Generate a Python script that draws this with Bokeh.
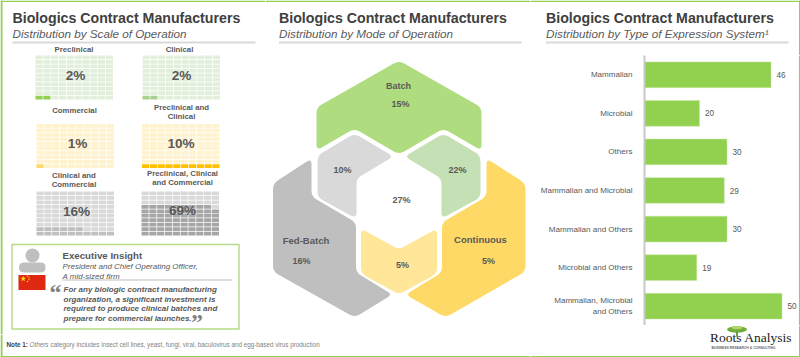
from bokeh.embed import file_html
from bokeh.resources import INLINE
from bokeh.plotting import figure
from bokeh.layouts import row, column
from bokeh.models import Range1d, FactorRange, Span
from bokeh.core.properties import value

# ---- data ----
panel_title = "Biologics Contract Manufacturers"
scale_subtitle = "Distribution by Scale of Operation"
mode_subtitle = "Distribution by Mode of Operation"
system_subtitle = "Distribution by Type of Expression System\u00b9"

scale_labels = ["Preclinical", "Clinical", "Commercial", "Preclinical and\nClinical",
                "Clinical and\nCommercial", "Preclinical, Clinical\nand Commercial"]
scale_values = [2, 2, 1, 10, 16, 69]

mode_labels = ["Batch", "Fed-Batch", "Continuous"]
mode_values = [15, 16, 5]
mode_overlap_values = [10, 22, 5, 27]

systems = ["Mammalian", "Microbial", "Others", "Mammalian and Microbial", "Mammalian and Others",
           "Microbial and Others", "Mammalian, Microbial\nand Others"]
system_counts = [46, 20, 30, 29, 30, 19, 50]

# ---- styles ----
FONT = value("Liberation Sans")
INK = "#595959"
GREEN = "#92d050"
BAR_PX_PER_UNIT = 2.75
SPLIT = 334


def pixel_fig(x0, x1, y0, y1):
    p = figure(width=x1 - x0, height=y1 - y0, x_range=Range1d(x0, x1), y_range=Range1d(y1, y0),
               output_backend="svg", toolbar_location=None, x_axis_type=None, y_axis_type=None,
               min_border=0, outline_line_color=None, background_fill_color="white", frame_align=False)
    p.grid.visible = False
    return p


def label(p, x, y, text, size, color=INK, style="normal", align="left", font=FONT):
    p.text(x=[x], y=[y], text=[text], text_font=font, text_font_size=f"{size}px", text_color=color,
           text_font_style=style, text_align=align, text_baseline="middle")


def rounded(pts, r):
    out = []
    n = len(pts)
    for i in range(n):
        px, py = pts[i - 1]
        cx, cy = pts[i]
        nx, ny = pts[(i + 1) % n]
        d1 = ((px - cx) ** 2 + (py - cy) ** 2) ** 0.5
        d2 = ((nx - cx) ** 2 + (ny - cy) ** 2) ** 0.5
        a = (cx + (px - cx) * r / d1, cy + (py - cy) * r / d1)
        b = (cx + (nx - cx) * r / d2, cy + (ny - cy) * r / d2)
        for k in range(7):
            t = k / 6
            out.append(((1 - t) ** 2 * a[0] + 2 * t * (1 - t) * cx + t ** 2 * b[0],
                        (1 - t) ** 2 * a[1] + 2 * t * (1 - t) * cy + t ** 2 * b[1]))
    return [q[0] for q in out], [q[1] for q in out]


def header(p, x, subtitle, rule_end):
    label(p, x, 17, panel_title, 14.2, color="#404040", style="bold")
    label(p, x, 33, subtitle, 11.7, color="#595959", style="italic")
    p.quad(left=[x], right=[rule_end], top=[41], bottom=[43], fill_color="#d9d9d9", line_color=None)


def waffle(p, x0, y0, w, h, pct, light, dark):
    left, right, top, bottom, colors = [], [], [], [], []
    gap = 0.7
    cw, ch = (w + gap) / 10, (h + gap) / 10
    for i in range(100):
        c, r = i % 10, i // 10
        left.append(x0 + c * cw)
        right.append(x0 + (c + 1) * cw - gap)
        bottom.append(y0 + h - r * ch)
        top.append(y0 + h - (r + 1) * ch + gap)
        colors.append(dark if i < pct else light)
    p.quad(left=left, right=right, top=top, bottom=bottom, fill_color=colors, line_color=None)


# ---- left panel ----
left = pixel_fig(0, 265, 0, SPLIT)
left.quad(left=[0], right=[2], top=[0], bottom=[SPLIT], fill_color=GREEN, line_color=None)
left.quad(left=[0], right=[265], top=[0], bottom=[1.5], fill_color=GREEN, line_color=None)
header(left, 12, scale_subtitle, 255)

waffle_pos = [(35, 55), (142, 55), (36, 123.5), (141.5, 123.5), (36, 191), (141, 191)]
waffle_light = ["#e2efda", "#e2efda", "#fff2cc", "#fff2cc", "#d9d9d9", "#d9d9d9"]
waffle_dark = ["#92d050", "#a9d18e", "#ffd966", "#ffc000", "#bfbfbf", "#a6a6a6"]
pct_pos = [(75, 75), (181, 75), (77, 143), (180.5, 142.5), (76, 211), (182, 210)]
name_pos = [(73.5, 49), (179, 49), (74, 110), (181, 107), (73.5, 175), (182, 173)]
for lab, val, (wx, wy), li, da, (tx, ty), (nx, ny) in zip(scale_labels, scale_values, waffle_pos,
                                                          waffle_light, waffle_dark, pct_pos, name_pos):
    waffle(left, wx, wy, 77.5, 44, val, li, da)
    label(left, tx, ty, f"{val}%", 13.6, style="bold", align="center")
    for k, part in enumerate(lab.split("\n")):
        label(left, nx, ny + k * 9.3, part, 7.8, style="bold", align="center")

# insight box
left.quad(left=[11.5], right=[238.5], top=[244], bottom=[328.5], fill_color=None,
          line_color="#b5dc8a", line_width=1.5)
left.circle(x=[32], y=[255], radius=7, fill_color="#bfbfbf", line_color=None)
sx, sy = rounded([(18.5, 272), (18.5, 262), (45, 262), (45, 272)], 5)
left.patch(sx, sy, fill_color="#bfbfbf", line_color=None)
left.quad(left=[18], right=[45], top=[274.5], bottom=[289.5], fill_color="#de2910", line_color=None)
left.scatter(x=[22.7], y=[278.3], marker="star", size=6, fill_color="#ffde00", line_color=None)
left.scatter(x=[27, 28.5, 28.5, 27], y=[275.5, 277, 279, 281], marker="circle", size=1.3,
             fill_color="#ffde00", line_color=None)
label(left, 62, 255, "Executive Insight", 9.7, style="bold")
label(left, 62, 265.5, "President and Chief Operating Officer,", 8, style="italic")
label(left, 62, 275.5, "A mid-sized firm", 8, style="italic")
left.line(x=[62, 232], y=[279.5, 279.5], line_color="#bfbfbf", line_width=1)
label(left, 49, 291, "\u201c", 24, color="#7f7f7f", style="bold", font=value("Liberation Serif"))
quote = ["For any biologic contract manufacturing", "organization, a significant investment is",
         "required to produce clinical batches and", "prepare for commercial launches."]
for ln, yy in zip(quote, [289.3, 298.8, 308.3, 317.7]):
    label(left, 63, yy, ln, 8, style="bold italic")
label(left, 190.5, 321.5, "\u201d", 24, color="#7f7f7f", style="bold", font=value("Liberation Serif"))

# ---- middle panel ----
mid = pixel_fig(265, 530, 0, SPLIT)
mid.quad(left=[265], right=[530], top=[0], bottom=[1.5], fill_color=GREEN, line_color=None)
header(mid, 278.5, mode_subtitle, 521)

shapes = [
    ([(398.5, 60), (481, 107), (481, 150), (443, 128), (398.5, 154), (354, 128), (316, 150), (316, 107)], "#aedc7e"),
    ([(354, 133), (393, 156), (356, 178), (356, 218), (317, 197), (317, 155)], "#d9d9d9"),
    ([(443, 133), (404, 156), (441, 178), (441, 218), (480, 197), (480, 155)], "#c5e0b4"),
    ([(360.5, 228), (398.5, 249), (436.5, 228), (436.5, 273), (398.5, 294), (360.5, 273)], "#ffe699"),
    ([(311, 158), (311, 196), (355.5, 222), (355.5, 272), (392, 294), (354, 317), (272.5, 271), (272.5, 183)], "#bfbfbf"),
    ([(486, 158), (486, 196), (441.5, 222), (441.5, 272), (405, 294), (445, 317), (525, 271), (525, 183)], "#ffd966"),
]
for pts, col in shapes:
    xs, ys = rounded(pts, 6)
    mid.patch(xs, ys, fill_color=col, line_color=None)

label(mid, 398, 85, mode_labels[0], 9, style="bold", align="center")
label(mid, 400, 103, f"{mode_values[0]}%", 9, style="bold", align="center")
label(mid, 305.5, 239.5, mode_labels[1], 9.5, style="bold", align="center")
label(mid, 301, 260, f"{mode_values[1]}%", 9, style="bold", align="center")
label(mid, 480, 238.5, mode_labels[2], 9.5, style="bold", align="center")
label(mid, 488, 260, f"{mode_values[2]}%", 9, style="bold", align="center")
for (tx, ty), v in zip([(342, 169.7), (457, 169.7), (402, 264), (401, 199)], mode_overlap_values):
    label(mid, tx, ty, f"{v}%", 9, style="bold", align="center")

# ---- note strip ----
note = pixel_fig(0, 530, SPLIT, 357)
note.quad(left=[0], right=[2], top=[SPLIT], bottom=[357], fill_color=GREEN, line_color=None)
note.quad(left=[0], right=[530], top=[355.5], bottom=[357], fill_color=GREEN, line_color=None)
label(note, 6, 344.3, "Note 1:", 6.3, color="#404040", style="bold")
label(note, 29, 344.3, "Others", 6.3, color="#7f7f7f", style="italic")
label(note, 50, 344.3, "category includes insect cell lines, yeast, fungi, viral, baculovirus and egg-based virus production",
      6.3, color="#7f7f7f")

# ---- right panel ----
rhead = pixel_fig(530, 800, 0, 55)
rhead.quad(left=[530], right=[800], top=[0], bottom=[1.5], fill_color=GREEN, line_color=None)
rhead.quad(left=[798.5], right=[800], top=[0], bottom=[55], fill_color=GREEN, line_color=None)
header(rhead, 545.5, system_subtitle, 788)

rbody = figure(width=270, height=270, x_range=Range1d(0, 156 / BAR_PX_PER_UNIT),
               y_range=FactorRange(factors=systems[::-1]), output_backend="svg", toolbar_location=None,
               x_axis_type=None, min_border=0, min_border_left=114, outline_line_color=None, frame_align=False)
rbody.grid.visible = False
rbody.hbar(y=systems, right=system_counts, height=0.667, fill_color=GREEN, line_color="#c6e6a0", line_width=0.5)
rbody.text(x=system_counts, y=systems, text=[str(v) for v in system_counts], x_offset=5.5,
           text_font=FONT, text_font_size="8.2px", text_color=INK, text_baseline="middle")
rbody.yaxis.axis_line_color = "#c8c8c8"
rbody.yaxis.axis_line_width = 2
rbody.yaxis.major_tick_line_color = None
rbody.yaxis.minor_tick_line_color = None
rbody.yaxis.major_label_standoff = 6
rbody.yaxis.major_label_text_font = "Liberation Sans"
rbody.yaxis.major_label_text_font_size = "8.05px"
rbody.yaxis.major_label_text_color = INK
rbody.add_layout(Span(location=155.2 / BAR_PX_PER_UNIT, dimension="height", line_color=GREEN, line_width=1.5))

logo = pixel_fig(530, 800, 325, 357)
logo.quad(left=[798.5], right=[800], top=[325], bottom=[357], fill_color=GREEN, line_color=None)
logo.quad(left=[530], right=[800], top=[355.5], bottom=[357], fill_color=GREEN, line_color=None)
logo.ellipse(x=[736.5], y=[329], width=[20], height=[6.5], fill_color="#6fae3a", line_color=None)
logo.ellipse(x=[736.5], y=[327], width=[11], height=[3.5], fill_color="#b5d56a", line_color=None)
logo.line(x=[736.5, 736.5], y=[331, 336], line_color="#6f9e3f", line_width=2)
label(logo, 709.5, 337, "Roots Analysis", 13.5, color="#222222", font=value("Liberation Serif"))
label(logo, 711, 347, "BUSINESS RESEARCH & CONSULTING", 3.4, color="#666666", style="bold")

root = row(column(row(left, mid, spacing=0), note, spacing=0),
           column(rhead, rbody, logo, spacing=0), spacing=0)

open("out.html", "w").write(file_html(root, INLINE))
